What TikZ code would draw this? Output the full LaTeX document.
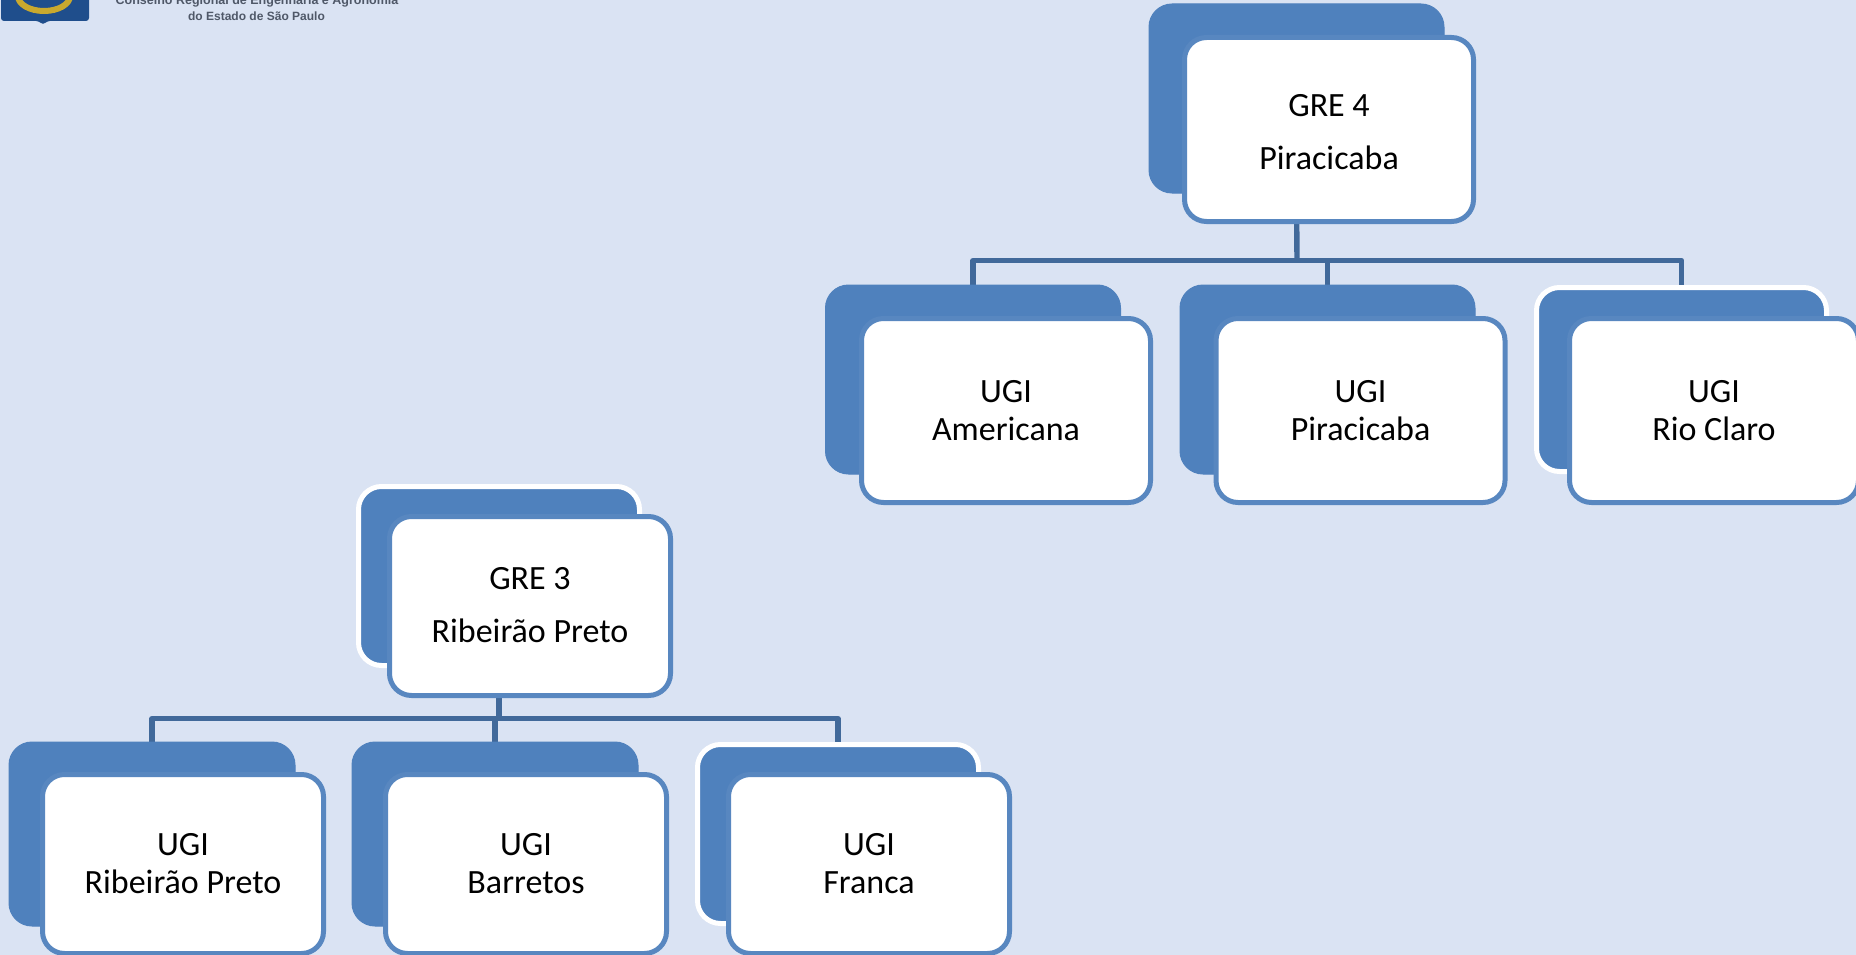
\documentclass[tikz,border=0pt]{standalone}
\usepackage{fontspec}
\setmainfont{Carlito}
\newfontfamily\logofont{Liberation Sans}
\definecolor{bgc}{HTML}{DAE3F3}
\definecolor{boxc}{HTML}{4F81BD}
\definecolor{linec}{HTML}{41699A}
\definecolor{shieldc}{HTML}{1F4E8C}
\definecolor{gearc}{HTML}{C9A92E}
\definecolor{logotxt}{HTML}{4F5868}
\pgfdeclarelayer{under}
\pgfsetlayers{under,main}
\tikzset{
  x=1pt,y=-1pt,
  backbox/.style={rounded corners=23pt,fill=boxc,draw=boxc,line width=1pt,outer sep=0pt,inner sep=0pt},
  whiteback/.style={backbox,draw=white,line width=5pt},
  frontbox/.style={rounded corners=22pt,fill=white,draw=boxc!95!white,line width=5pt,outer sep=0pt,inner sep=0pt,
     text=black,align=center},
  gretext/.style={font=\fontsize{34}{53}\selectfont},
  ugitext/.style={font=\fontsize{34}{38}\selectfont},
  bus/.style={draw=linec,line width=5.4pt,line join=round},
  logoline/.style={font=\logofont\bfseries\fontsize{12.5}{14}\selectfont,text=logotxt,inner sep=0pt,outer sep=0pt,anchor=base}
}
\begin{document}
\begin{tikzpicture}
\useasboundingbox (0,0) rectangle (1856,955);
\clip (0,0) rectangle (1856,955);
\begin{pgfonlayer}{under}
  \fill[bgc] (0,0) rectangle (1856,955);
\end{pgfonlayer}
% logo
\fill[shieldc,rounded corners=3pt] (1,-6) -- (89,-6) -- (89,21) -- (47,21) -- (43,25) -- (39,21) -- (1,21) -- cycle;
\draw[gearc,line width=6pt] (18,-4) arc[start angle=180,end angle=0,x radius=26,y radius=15];
\node[logoline] (logoa) at (257,4.5) {Conselho Regional de Engenharia e Agronomia};
\node[logoline] (logob) at (256.5,20.5) {\fontsize{12}{14}\selectfont do Estado de São Paulo};
% GRE 4
\node[backbox,minimum width=295pt,minimum height=189pt] (b4) at (1296.5,98.5) {};
\node[frontbox,gretext,minimum width=289pt,minimum height=184pt] (f4) at (1329,129.5) {\rule{0pt}{27pt}GRE 4\\Piracicaba};
\node[backbox,minimum width=295pt,minimum height=189pt] (bam) at (973,379.5) {};
\node[frontbox,ugitext,minimum width=289pt,minimum height=184pt] (fam) at (1006,410.5) {UGI\\Americana};
\node[backbox,minimum width=295pt,minimum height=189pt] (bpi) at (1327.5,379.5) {};
\node[frontbox,ugitext,minimum width=289pt,minimum height=184pt] (fpi) at (1360.5,410.5) {UGI\\Piracicaba};
\node[whiteback,minimum width=290pt,minimum height=184pt] (brc) at (1681.5,379.5) {};
\node[frontbox,ugitext,minimum width=289pt,minimum height=184pt] (frc) at (1714,410.5) {UGI\\Rio Claro};
% GRE 3
\node[whiteback,minimum width=281pt,minimum height=179pt] (b3) at (499,576) {};
\node[frontbox,gretext,minimum width=281pt,minimum height=179pt] (f3) at (530,606) {GRE 3\\Ribeirão Preto\rule[-2.4pt]{0pt}{0pt}};
\node[backbox,minimum width=286pt,minimum height=184pt] (brp) at (152,834) {};
\node[frontbox,ugitext,minimum width=281pt,minimum height=179pt] (frp) at (183,864) {UGI\\Ribeirão Preto};
\node[backbox,minimum width=286pt,minimum height=184pt] (bba) at (495,834) {};
\node[frontbox,ugitext,minimum width=281pt,minimum height=179pt] (fba) at (526,864) {UGI\\Barretos};
\node[whiteback,minimum width=281pt,minimum height=179pt] (bfr) at (838,834) {};
\node[frontbox,ugitext,minimum width=281pt,minimum height=179pt] (ffr) at (869,864) {UGI\\Franca};
% junctions
\coordinate (j4) at (1297,260.5);
\coordinate (j3) at (499,718.5);
\begin{pgfonlayer}{under}
  \draw[bus] (b4.south) -- (j4);
  \draw[bus] (j4) -| (bam.north);
  \draw[bus] (j4) -| (bpi.north);
  \draw[bus] (j4) -| (brc.north);
  \draw[bus] (b3.south) -- (j3);
  \draw[bus] (j3) -| (brp.north);
  \draw[bus] (j3) -| (bba.north);
  \draw[bus] (j3) -| (bfr.north);
\end{pgfonlayer}
\end{tikzpicture}
\end{document}
